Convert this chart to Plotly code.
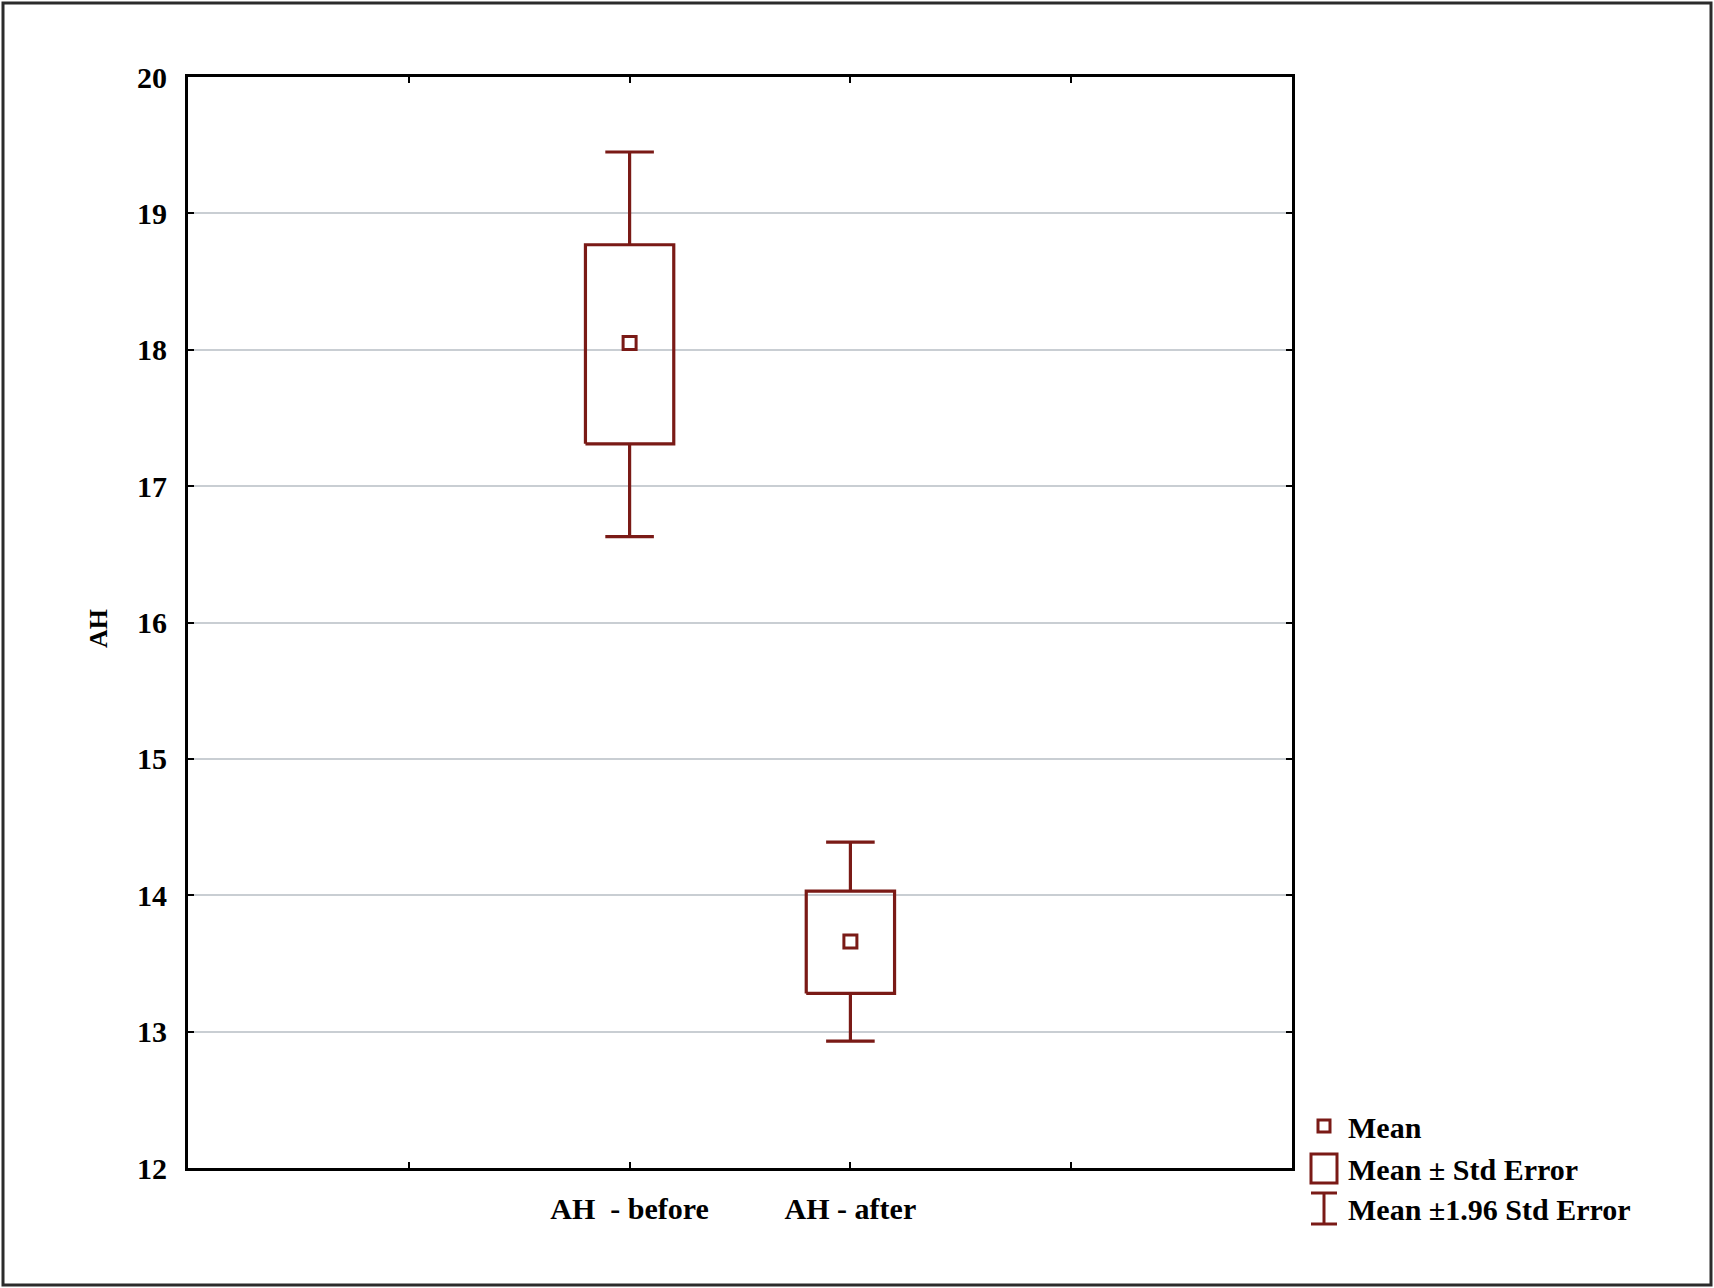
import plotly.graph_objects as go

# ── data ──────────────────────────────────────────────────────
categories = ["AH\u00a0\u00a0- before", "AH - after"]
cat_pos = [2, 3]
means = [18.05, 13.66]
box_low = [17.31, 13.28]      # mean - SE
box_high = [18.77, 14.03]     # mean + SE
whisk_low = [16.63, 12.93]    # mean - 1.96 SE
whisk_high = [19.45, 14.39]   # mean + 1.96 SE

y_ticks = [12, 13, 14, 15, 16, 17, 18, 19, 20]
x_ticks = [1, 2, 3, 4]

# ── style ─────────────────────────────────────────────────────
W, H = 1714, 1288
L, R, T, B = 188, 1292, 77, 1168
RED = "#7A1A16"
FONT = "Liberation Serif"
FS = 30
BOX_HALF = 0.20
CAP_HALF = 0.11


def px(x):
    return (x - L) / (R - L)


def py(y):
    return (B - y) / (B - T)


fig = go.Figure()

# boxes (mean ± SE)
bx, by = [], []
for c, lo, hi in zip(cat_pos, box_low, box_high):
    bx += [c - BOX_HALF, c + BOX_HALF, c + BOX_HALF, c - BOX_HALF, c - BOX_HALF, None]
    by += [lo, lo, hi, hi, lo, None]
fig.add_trace(go.Scatter(x=bx, y=by, mode="lines", line=dict(color=RED, width=3.2),
                         showlegend=False, hoverinfo="skip"))

# whiskers (mean ± 1.96 SE) with caps
wx, wy = [], []
for c, lo, hi, blo, bhi in zip(cat_pos, whisk_low, whisk_high, box_low, box_high):
    wx += [c, c, None, c, c, None]
    wy += [bhi, hi, None, blo, lo, None]
    wx += [c - CAP_HALF, c + CAP_HALF, None, c - CAP_HALF, c + CAP_HALF, None]
    wy += [hi, hi, None, lo, lo, None]
fig.add_trace(go.Scatter(x=wx, y=wy, mode="lines", line=dict(color=RED, width=3.2),
                         showlegend=False, hoverinfo="skip"))

# means
fig.add_trace(go.Scatter(x=cat_pos, y=means, mode="markers", showlegend=False,
                         marker=dict(symbol="square-open", size=13, color=RED,
                                     line=dict(color=RED, width=3))))

# ── hand-drawn legend (bottom right, outside plot) ────────────
shapes = []
# small square (Mean)
shapes.append(dict(type="rect", xref="paper", yref="paper",
                   x0=px(1318), x1=px(1330), y0=py(1132), y1=py(1120),
                   line=dict(color=RED, width=3), fillcolor="white"))
# big square (Mean ± SE)
shapes.append(dict(type="rect", xref="paper", yref="paper",
                   x0=px(1311), x1=px(1337), y0=py(1183), y1=py(1154),
                   line=dict(color=RED, width=3), fillcolor="white"))
# whisker icon
for (x0, y0, x1, y1) in [(1311, 1193, 1337, 1193), (1311, 1224, 1337, 1224),
                         (1324, 1193, 1324, 1224)]:
    shapes.append(dict(type="line", xref="paper", yref="paper",
                       x0=px(x0), x1=px(x1), y0=py(y0), y1=py(y1),
                       line=dict(color=RED, width=3)))
# outer frame of the picture
shapes.append(dict(type="rect", xref="paper", yref="paper",
                   x0=px(3), x1=px(W - 3), y0=py(H - 3), y1=py(3),
                   line=dict(color="#2b2b2b", width=3), layer="below"))

annotations = []
for txt, yy in [("Mean", 1127), ("Mean ± Std Error", 1169), ("Mean ±1.96 Std Error", 1209)]:
    annotations.append(dict(text="<b>" + txt + "</b>", xref="paper", yref="paper",
                            x=px(1346), y=py(yy),
                            xanchor="left", yanchor="middle", showarrow=False,
                            font=dict(family=FONT, size=FS, color="black")))
annotations.append(dict(text="<b>AH</b>", xref="paper", yref="paper", x=px(98), y=py(629),
                        xanchor="center", yanchor="middle", showarrow=False, textangle=-90,
                        font=dict(family=FONT, size=26, color="black")))

fig.update_layout(
    width=W, height=H,
    margin=dict(l=L, r=W - R, t=T, b=H - B),
    paper_bgcolor="white", plot_bgcolor="white",
    font=dict(family=FONT, size=FS, color="black"),
    shapes=shapes, annotations=annotations,
    showlegend=False,
)
fig.update_xaxes(
    range=[0, 5], tickvals=x_ticks,
    ticktext=["", "<b>" + categories[0] + "</b>", "<b>" + categories[1] + "</b>", ""],
    ticks="inside", ticklen=6, tickwidth=2, tickcolor="black",
    showline=True, linecolor="black", linewidth=3, mirror="ticks",
    showgrid=False, zeroline=False, ticklabelstandoff=12,
    tickfont=dict(family=FONT, size=FS, color="black"),
)
fig.update_yaxes(
    range=[12, 20], tickvals=y_ticks,
    ticktext=["<b>%d</b>" % v for v in y_ticks],
    ticks="inside", ticklen=6, tickwidth=2, tickcolor="black",
    showline=True, linecolor="black", linewidth=3, mirror="ticks",
    showgrid=True, gridcolor="#C9CED3", gridwidth=2, zeroline=False,
    ticklabelstandoff=12,
    tickfont=dict(family=FONT, size=FS, color="black"),
)

# page body margin would shift the whole picture by 8px
fig.write_html("out.html", config={"displayModeBar": False},
               post_script="document.body.style.margin='0px';")
